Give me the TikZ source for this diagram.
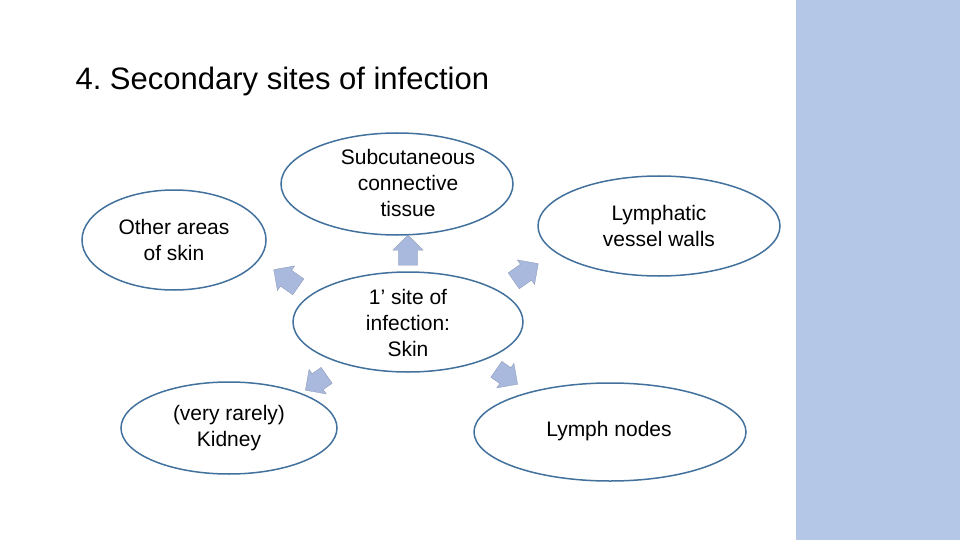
\documentclass[tikz,border=0pt]{standalone}
\usepackage{fontspec}
\setmainfont{Liberation Sans}
\usetikzlibrary{shapes.geometric,shapes.arrows}
\definecolor{side}{HTML}{B4C7E7}
\definecolor{edge}{HTML}{41719C}
\definecolor{arr}{HTML}{A9B9DD}
\begin{document}
\begin{tikzpicture}[x=1pt,y=-1pt,
  ell/.style={ellipse,draw=edge,line width=1.5pt,fill=white,inner sep=0pt},
  lab/.style={align=center,inner sep=0pt,font=\fontsize{21}{26}\selectfont},
  barr/.style={single arrow,fill=arr,draw=arr!80!black,line width=0.3pt,minimum height=30pt,minimum width=30pt,single arrow head extend=5pt,inner xsep=0pt,inner ysep=9pt}]
\useasboundingbox (0,0) rectangle (960,540);
\fill[side] (796,0) rectangle (960,540);
\node[anchor=west,font=\fontsize{31}{36}\selectfont] (title) at (72,81) {4.\ Secondary sites of infection};
\node[ell,minimum width=230pt,minimum height=100pt] (c) at (408,322) {};
\node[ell,minimum width=232pt,minimum height=102pt] (t) at (397,184) {};
\node[ell,minimum width=184pt,minimum height=100pt] (l) at (174,240) {};
\node[ell,minimum width=242pt,minimum height=100pt] (r) at (659,226) {};
\node[ell,minimum width=216pt,minimum height=92pt] (bl) at (229,428) {};
\node[ell,minimum width=272pt,minimum height=98pt] (br) at (610,432) {};
\node[lab] (ct) at (408,323) {1’ site of\\infection:\\Skin};
\node[lab] (tt) at (408,183) {Subcutaneous\\connective\\tissue};
\node[lab] (lt) at (174,240) {Other areas\\of skin};
\node[lab] (rt) at (659,226) {Lymphatic\\vessel walls};
\node[lab] (blt) at (229,428) {(very rarely)\\Kidney};
\node[lab] (brt) at (609,431) {Lymph nodes};
\node[barr,rotate=90] (a1) at (408,255) {};
\node[barr,rotate=145] (a2) at (290,281) {};
\node[barr,rotate=35] (a3) at (522,275) {};
\node[barr,rotate=-145,minimum height=26pt] (a4) at (320,380) {};
\node[barr,rotate=-35,minimum height=26pt] (a5) at (503,374) {};
\end{tikzpicture}
\end{document}
